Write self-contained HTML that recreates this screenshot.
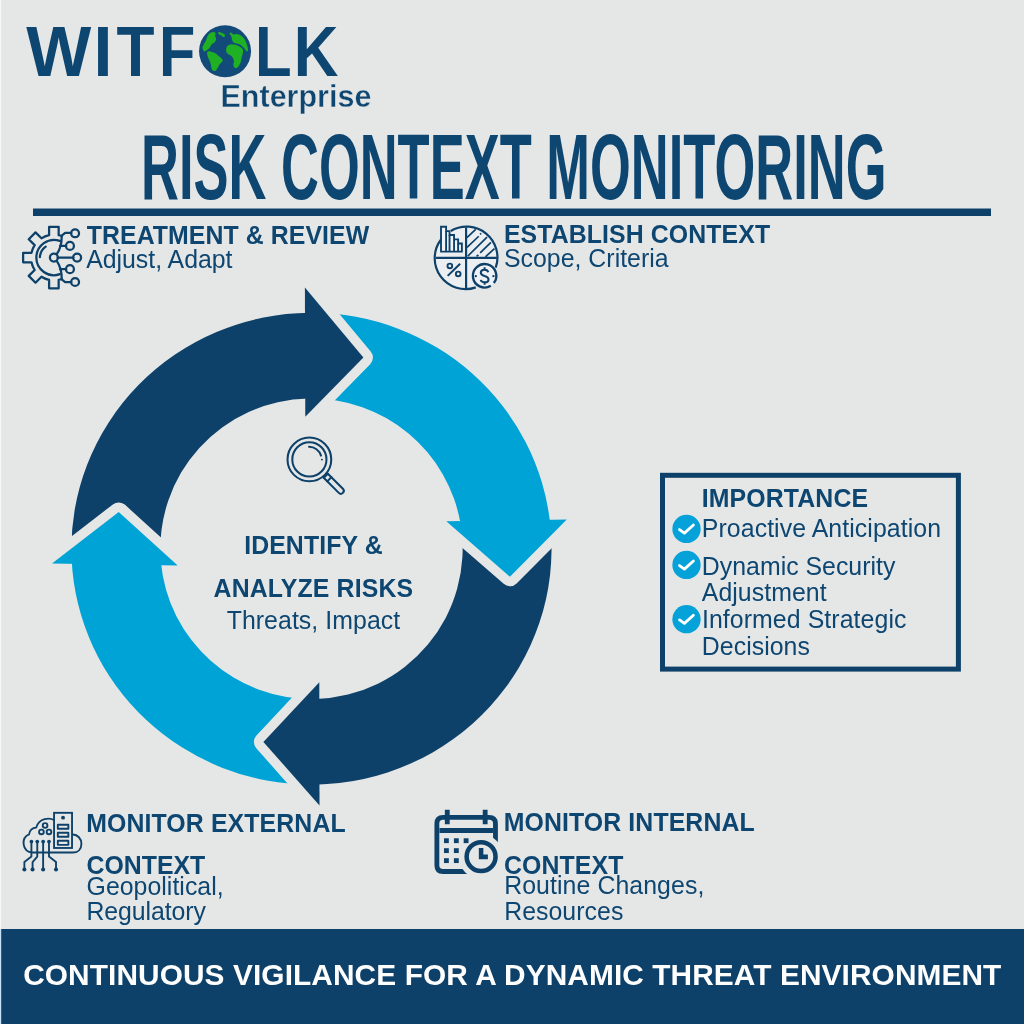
<!DOCTYPE html>
<html><head><meta charset="utf-8"><style>
html,body{margin:0;padding:0;background:#e5e7e6;}
svg{display:block;}
text{font-family:"Liberation Sans",sans-serif;}
</style></head><body>
<svg width="1024" height="1024" viewBox="0 0 1024 1024">
<rect width="1024" height="1024" fill="#e5e7e6"/>
<rect x="0" y="0" width="1.2" height="929" fill="#f6f7f8"/>
<g>
<circle cx="225.05" cy="51.3" r="26" fill="#124a79"/>
<g transform="translate(195,22) scale(0.05859)" fill="#1fb023">
<path d="M140,470 C137,461 123,455 125,440 C127,425 140,400 150,380 C160,360 176,340 185,320 C194,300 197,278 205,260 C213,242 224,223 235,210 C246,197 256,187 270,180 C284,173 307,168 320,170 C333,172 346,178 350,190 C354,202 343,223 345,240 C347,257 361,273 360,290 C359,307 350,327 340,340 C330,353 312,360 300,370 C288,380 278,388 270,400 C262,412 259,428 250,440 C241,452 228,460 215,470 C202,480 187,496 175,500 C163,504 151,500 145,495 C139,490 143,479 140,470 Z"/><path d="M395,185 C397,178 408,169 420,170 C432,171 456,183 470,190 C484,197 498,201 505,210 C512,219 514,238 510,245 C506,252 491,258 480,255 C469,252 457,232 445,225 C433,218 418,222 410,215 C402,208 393,192 395,185 Z"/><path d="M205,520 C208,510 216,502 230,500 C244,498 272,505 290,510 C308,515 325,522 340,530 C355,538 365,548 380,560 C395,572 415,587 430,600 C445,613 464,627 470,640 C476,653 473,667 465,680 C457,693 431,707 420,720 C409,733 408,745 400,760 C392,775 380,798 370,810 C360,822 352,832 340,835 C328,838 310,834 300,825 C290,816 285,798 280,780 C275,762 275,740 270,720 C265,700 258,678 250,660 C242,642 232,627 225,610 C218,593 213,575 210,560 C207,545 202,530 205,520 Z"/><path d="M590,190 C593,185 607,178 615,180 C623,182 632,194 640,200 C648,206 655,214 665,215 C675,216 686,205 700,205 C714,205 733,208 750,215 C767,222 785,233 800,245 C815,257 828,269 840,285 C852,301 862,321 870,340 C878,359 884,380 890,400 C896,420 904,443 905,460 C906,477 901,495 895,500 C889,505 879,498 870,490 C861,482 850,462 840,450 C830,438 818,428 810,420 C802,412 798,407 790,400 C782,393 772,385 760,380 C748,375 733,373 720,370 C707,367 692,365 680,360 C668,355 658,350 650,340 C642,330 634,313 630,300 C626,287 628,272 625,260 C622,248 615,238 610,230 C605,222 598,217 595,210 C592,203 587,195 590,190 Z"/><path d="M530,480 C531,463 537,435 545,420 C553,405 566,397 580,390 C594,383 612,380 630,380 C648,380 672,385 690,390 C708,395 723,402 740,410 C757,418 777,428 790,440 C803,452 816,463 820,480 C824,497 818,522 815,540 C812,558 804,573 800,590 C796,607 794,622 790,640 C786,658 783,680 775,700 C767,720 752,745 740,760 C728,775 712,788 700,790 C688,792 672,782 665,770 C658,758 655,737 655,720 C655,703 666,687 665,670 C664,653 658,635 650,620 C642,605 633,592 620,580 C607,568 583,560 570,550 C557,540 547,532 540,520 C533,508 529,497 530,480 Z"/>
</g></g>
<rect x="33" y="208.5" width="958" height="7.5" fill="#0e4169"/>
<g transform="translate(18,222) scale(0.06835)" fill="none" stroke="#0e4169" stroke-width="33" stroke-linecap="round" stroke-linejoin="round">
<path d="M639.58,205.20 A335,335 0 0 0 595.00,192.40 L595.00,70.00 L455.00,70.00 L455.00,192.40 A335,335 0 0 0 342.85,238.85 L256.30,152.30 L157.30,251.30 L243.85,337.85 A335,335 0 0 0 197.40,450.00 L75.00,450.00 L75.00,590.00 L197.40,590.00 A335,335 0 0 0 243.85,702.15 L157.30,788.70 L256.30,887.70 L342.85,801.15 A335,335 0 0 0 455.00,847.60 L455.00,970.00 L595.00,970.00 L595.00,847.60 A335,335 0 0 0 639.58,834.80"/>
<path d="M640,205 C640,300 625,390 568,468"/>
<path d="M568,572 C625,650 640,740 640,835"/>
<path d="M640,200 L690,160 L780,160"/>
<path d="M640,840 L690,880 L780,880"/>
<path d="M615,350 L705,350"/><path d="M615,690 L705,690"/><path d="M580,520 L810,520"/>
<circle cx="835" cy="165" r="58"/><circle cx="760" cy="350" r="58"/><circle cx="865" cy="520" r="58"/><circle cx="760" cy="690" r="58"/><circle cx="835" cy="878" r="58"/>
<circle cx="525" cy="520" r="58"/>
<path d="M613,277 A258,258 0 1 0 613,763"/>
<path d="M405,360 A203,203 0 0 0 320,515"/>
</g>
<g transform="translate(425,220) scale(0.078125)" fill="none" stroke="#0e4169" stroke-width="28" stroke-linecap="butt">
<circle cx="530" cy="485" r="395" fill="#eceff2" stroke="none"/>
<path d="M205,250 A395,395 0 0 0 650,862"/>
<path d="M330,140 A395,395 0 0 1 905,610"/>
<path d="M526,95 L526,875"/><path d="M140,485 L920,485"/>
<path d="M205,87 L270,87 L270,142 L314,142 L314,192 L372,192 L372,248 L424,248 L424,300 L472,300 L472,404 L205,404 Z" fill="#f0f5fa" stroke-width="24"/>
<path d="M270,142 L270,404 M314,192 L314,404 M372,248 L372,404 M424,300 L424,404" stroke-width="24"/>
<path d="M536,226 L649,121 M538,351 L688,208 M706,183 L718,170 M548,461 L794,218 M706,421 L844,286 M659,466 L684,446 M774,471 L889,366" stroke-width="22"/>
<circle cx="318" cy="588" r="30" stroke-width="24"/><circle cx="425" cy="690" r="30" stroke-width="24"/><path d="M290,715 L450,560" stroke-width="26"/>
<circle cx="763" cy="714" r="150" fill="#eef2f6" stroke="none"/>
<path d="M842,841 A150,150 0 1 1 881,806" stroke-width="30"/>
<path d="M809,669 C805,645 785,636 763,636 C735,636 714,650 714,672 C714,700 740,710 763,716 C790,722 813,735 813,760 C813,785 790,797 763,797 C740,797 718,787 714,767 M763,605 L763,636 M763,797 L763,830" stroke-width="26"/>
<circle cx="650" cy="718" r="15" fill="#0e4169" stroke="none"/><circle cx="876" cy="718" r="15" fill="#0e4169" stroke="none"/>
</g>
<path d="M71.54,556.83 A240.07,235.98 0 0 1 309.78,312.75 L308.27,398.45 A151.16,150.3 0 0 0 160.80,560.76 Z" fill="#0e4169"/>
<path d="M312.18,312.74 A240.07,235.98 0 0 1 550.27,524.44 L460.58,524.05 A151.16,150.3 0 0 0 309.78,398.43 Z" fill="#00a3d6"/>
<path d="M550.50,526.79 A240.07,235.98 0 0 1 314.67,784.68 L316.31,698.94 A151.16,150.3 0 0 0 460.82,525.54 Z" fill="#0e4169"/>
<path d="M312.27,784.70 A240.07,235.98 0 0 1 71.64,559.19 L160.92,562.26 A151.16,150.3 0 0 0 314.80,698.98 Z" fill="#00a3d6"/>
<polyline points="304.90,287.40 363.40,357.50 305.30,416.80" fill="none" stroke="#e5e7e6" stroke-width="19" stroke-linejoin="round"/>
<polygon points="304.90,287.40 363.40,357.50 305.30,416.80" fill="#0e4169"/>
<polyline points="566.80,519.50 509.90,576.70 446.30,521.30" fill="none" stroke="#e5e7e6" stroke-width="19" stroke-linejoin="round"/>
<polygon points="566.80,519.50 509.90,576.70 446.30,521.30" fill="#00a3d6"/>
<polyline points="319.50,805.40 263.40,741.90 319.30,682.30" fill="none" stroke="#e5e7e6" stroke-width="19" stroke-linejoin="round"/>
<polygon points="319.50,805.40 263.40,741.90 319.30,682.30" fill="#0e4169"/>
<polyline points="52.00,563.60 118.70,511.90 177.70,565.50" fill="none" stroke="#e5e7e6" stroke-width="19" stroke-linejoin="round"/>
<polygon points="52.00,563.60 118.70,511.90 177.70,565.50" fill="#00a3d6"/>
<g transform="translate(280,430) scale(0.06835)" fill="none" stroke="#0e4169" stroke-width="30" stroke-linecap="round">
<circle cx="430" cy="430" r="320"/>
<circle cx="430" cy="430" r="250"/>
<path d="M425,245 A185,185 0 0 1 600,375"/>
<circle cx="613" cy="433" r="14" fill="#0e4169" stroke="none"/>
<path d="M640,700 L700,640"/>
<path d="M640,700 L860,920 A42,42 0 0 0 920,860 L700,640"/>
<path d="M690,752 L752,690"/>
</g>
<rect x="662.5" y="475.3" width="295.9" height="193.8" fill="none" stroke="#0e4169" stroke-width="5"/>
<circle cx="686.5" cy="528.9" r="14.15" fill="#05a2d9"/><path d="M679.5,529.6 L684.4,533.1 L693.4,525.0" fill="none" stroke="#fff" stroke-width="2.8" stroke-linecap="round" stroke-linejoin="round"/><circle cx="686.5" cy="564.9" r="14.15" fill="#05a2d9"/><path d="M679.5,565.6 L684.4,569.1 L693.4,561.0" fill="none" stroke="#fff" stroke-width="2.8" stroke-linecap="round" stroke-linejoin="round"/><circle cx="686.5" cy="619.2" r="14.15" fill="#05a2d9"/><path d="M679.5,619.9000000000001 L684.4,623.4000000000001 L693.4,615.3000000000001" fill="none" stroke="#fff" stroke-width="2.8" stroke-linecap="round" stroke-linejoin="round"/>
<g transform="translate(15,805) scale(0.078125)" fill="none" stroke="#0e4169" stroke-width="24" stroke-linecap="round" stroke-linejoin="round">
<rect x="500" y="100" width="230" height="450" stroke-linejoin="miter"/>
<circle cx="615" cy="162" r="25" fill="#0e4169" stroke="none"/>
<rect x="548" y="252" width="135" height="52"/><rect x="548" y="355" width="135" height="52"/><rect x="548" y="458" width="135" height="52"/>
<path d="M500,192 C470,175 420,170 380,180 C320,195 285,240 270,290 C220,290 185,330 180,375 C130,395 105,440 110,500 C120,570 170,605 225,608 L740,608 C810,608 850,560 850,495 C850,430 800,380 742,378"/>
<circle cx="385" cy="262" r="30"/><circle cx="338" cy="345" r="30"/><circle cx="435" cy="345" r="30"/>
<path d="M210,470 L210,660 L120,730 L120,822"/>
<path d="M285,470 L285,660 L225,730 L225,822"/>
<path d="M360,470 L360,822"/>
<path d="M435,470 L435,660 L525,730 L525,822"/>
<g fill="#0e4169" stroke="none"><circle cx="210" cy="468" r="24"/><circle cx="285" cy="468" r="24"/><circle cx="360" cy="468" r="24"/><circle cx="435" cy="468" r="24"/>
<circle cx="120" cy="825" r="26"/><circle cx="225" cy="825" r="26"/><circle cx="360" cy="825" r="26"/><circle cx="525" cy="825" r="26"/></g>
</g>
<g transform="translate(425,800) scale(0.078125)" fill="none" stroke="#0e4169" stroke-width="62">
<path d="M600,915 L230,915 Q152,915 152,835 L152,300 Q152,222 230,222 L820,222 Q902,222 902,300 L902,640"/>
<path d="M185,390 L870,390"/>
<circle cx="718" cy="725" r="285" fill="#e5e7e6" stroke="none"/>
<path d="M285,125 L285,310 M770,125 L770,310"/>
<g fill="#0e4169" stroke="none">
<rect x="243" y="490" width="62" height="62"/><rect x="370" y="490" width="62" height="62"/><rect x="495" y="490" width="62" height="62"/>
<rect x="243" y="617" width="62" height="62"/><rect x="370" y="617" width="62" height="62"/>
<rect x="243" y="745" width="62" height="62"/><rect x="370" y="745" width="62" height="62"/>
</g>
<circle cx="718" cy="725" r="185" stroke-width="58"/>
<path d="M718,615 L718,728 L805,728" stroke-width="58" stroke-linejoin="miter"/>
</g>
<rect x="0" y="929" width="1024" height="95" fill="#0e4169"/>
<rect x="0" y="929" width="1.2" height="95" fill="#c6e0f4"/>
<g opacity="0.999">
<text transform="translate(26.18,0) scale(0.977,1)" x="0" y="75.9" font-size="70.5" font-weight="700" fill="#0e4672">W</text>
<text transform="translate(93.55,0) scale(0.965,1)" x="0" y="75.9" font-size="70.5" font-weight="700" fill="#0e4672">I</text>
<text transform="translate(116.5,0) scale(0.882,1)" x="0" y="75.9" font-size="70.5" font-weight="700" fill="#0e4672">T</text>
<text transform="translate(159.03,0) scale(0.842,1)" x="0" y="75.9" font-size="70.5" font-weight="700" fill="#0e4672">F</text>
<text transform="translate(254.99,0) scale(0.851,1)" x="0" y="75.9" font-size="70.5" font-weight="700" fill="#0e4672">L</text>
<text transform="translate(293.76,0) scale(0.878,1)" x="0" y="75.9" font-size="70.5" font-weight="700" fill="#0e4672">K</text>
<text x="220.5" y="106.8" font-size="30.5" font-weight="700" fill="#0e4672" stroke="#e5e7e6" stroke-width="0.4">Enterprise</text>
<text x="141.0" y="199.2" font-size="93.4" font-weight="700" fill="#0e4672" textLength="745.5" lengthAdjust="spacingAndGlyphs">RISK CONTEXT MONITORING</text>
<text x="86.72" y="243.6" font-size="24.85" font-weight="700" fill="#0e4672" textLength="282.40">TREATMENT &amp; REVIEW</text>
<text x="86.15" y="267.5" font-size="24.85" font-weight="400" fill="#0e4672" textLength="146.33">Adjust, Adapt</text>
<text x="503.94" y="242.8" font-size="24.85" font-weight="700" fill="#0e4672" textLength="266.13">ESTABLISH CONTEXT</text>
<text x="503.97" y="267.2" font-size="24.85" font-weight="400" fill="#0e4672" textLength="164.63">Scope, Criteria</text>
<text x="244.14" y="554.0" font-size="24.85" font-weight="700" fill="#0e4672" textLength="138.44">IDENTIFY &amp;</text>
<text x="213.58" y="596.6" font-size="24.85" font-weight="700" fill="#0e4672" textLength="199.49">ANALYZE RISKS</text>
<text x="226.64" y="628.6" font-size="24.85" font-weight="400" fill="#0e4672" textLength="173.54">Threats, Impact</text>
<text x="701.74" y="506.6" font-size="24.85" font-weight="700" fill="#0e4672" textLength="166.33">IMPORTANCE</text>
<text x="701.86" y="536.8" font-size="24.85" font-weight="400" fill="#0e4672" textLength="239.15">Proactive Anticipation</text>
<text x="701.86" y="575.1" font-size="24.85" font-weight="400" fill="#0e4672" textLength="193.49">Dynamic Security</text>
<text x="701.75" y="601.2" font-size="24.85" font-weight="400" fill="#0e4672" textLength="124.83">Adjustment</text>
<text x="701.91" y="628.4" font-size="24.85" font-weight="400" fill="#0e4672" textLength="204.55">Informed Strategic</text>
<text x="701.86" y="654.5" font-size="24.85" font-weight="400" fill="#0e4672" textLength="107.94">Decisions</text>
<text x="86.14" y="831.7" font-size="24.85" font-weight="700" fill="#0e4672" textLength="259.53">MONITOR EXTERNAL</text>
<text x="86.48" y="874.3" font-size="24.85" font-weight="700" fill="#0e4672" textLength="118.79">CONTEXT</text>
<text x="86.55" y="894.5" font-size="24.85" font-weight="400" fill="#0e4672" textLength="137.08">Geopolitical,</text>
<text x="86.46" y="920.3" font-size="24.85" font-weight="400" fill="#0e4672" textLength="119.39">Regulatory</text>
<text x="503.74" y="830.9" font-size="24.85" font-weight="700" fill="#0e4672" textLength="250.93">MONITOR INTERNAL</text>
<text x="504.08" y="873.5" font-size="24.85" font-weight="700" fill="#0e4672" textLength="119.29">CONTEXT</text>
<text x="504.16" y="894.0" font-size="24.85" font-weight="400" fill="#0e4672" textLength="200.17">Routine Changes,</text>
<text x="504.16" y="919.6" font-size="24.85" font-weight="400" fill="#0e4672" textLength="119.14">Resources</text>
<text x="23.18" y="985.1" font-size="29.84" font-weight="700" fill="#ffffff" textLength="978.14">CONTINUOUS VIGILANCE FOR A DYNAMIC THREAT ENVIRONMENT</text>
</g>
</svg>
</body></html>
